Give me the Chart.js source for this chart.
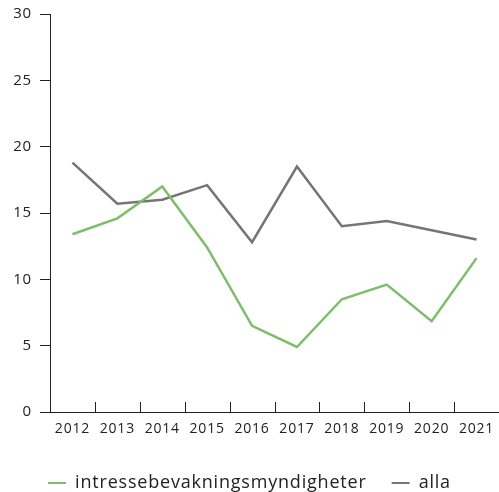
<!DOCTYPE html>
<html>
<head>
<meta charset="utf-8">
<script src="https://cdn.jsdelivr.net/npm/chart.js@4"></script>
<style>
html,body{margin:0;padding:0;background:#fff;}
#wrap{width:499px;height:492px;}
</style>
</head>
<body>
<div id="wrap"><canvas id="c" width="499" height="492"></canvas></div>
<script>
const categories = ['2012','2013','2014','2015','2016','2017','2018','2019','2020','2021'];
const intressebevakning = [13.4, 14.6, 17.0, 12.4, 6.5, 4.9, 8.5, 9.6, 6.85, 11.6];
const alla = [18.8, 15.7, 16.0, 17.1, 12.8, 18.5, 14.0, 14.4, 13.7, 13.0];
const yTicks = [0, 5, 10, 15, 20, 25, 30];

const FONT = '"Open Sans", Lato, sans-serif';

const spacing = {
  id: 'spacing',
  beforeLayout(chart) { chart.ctx.letterSpacing = '0.8px'; },
  beforeDraw(chart) { chart.ctx.letterSpacing = '0.8px'; }
};

const upTicks = {
  id: 'upTicks',
  afterDraw(chart) {
    const xs = chart.scales.x;
    const ctx = chart.ctx;
    const bottom = chart.chartArea.bottom;
    ctx.save();
    ctx.strokeStyle = '#222';
    ctx.lineWidth = 1;
    for (let i = 0; i <= categories.length; i++) {
      const x = Math.round(xs.getPixelForValue(i - 0.5)) + 0.5;
      ctx.beginPath();
      ctx.moveTo(x, bottom);
      ctx.lineTo(x, bottom - 10);
      ctx.stroke();
    }
    ctx.restore();
  }
};

new Chart(document.getElementById('c'), {
  type: 'line',
  data: {
    labels: categories,
    datasets: [
      {
        label: 'intressebevakningsmyndigheter',
        data: intressebevakning,
        borderColor: '#7dbd6b',
        backgroundColor: '#7dbd6b',
        borderWidth: 2.5,
        pointRadius: 0,
        tension: 0
      },
      {
        label: 'alla',
        data: alla,
        borderColor: '#757575',
        backgroundColor: '#757575',
        borderWidth: 2.5,
        pointRadius: 0,
        tension: 0
      }
    ]
  },
  options: {
    responsive: false,
    animation: false,
    layout: { padding: { top: 14, right: 0, left: 0, bottom: -10 } },
    plugins: {
      legend: {
        position: 'bottom',
        labels: {
          boxWidth: 18,
          boxHeight: 2,
          padding: 25,
          color: '#222',
          font: { family: FONT, size: 18 },
          generateLabels(chart) {
            const items = Chart.defaults.plugins.legend.labels.generateLabels(chart);
            items.forEach(it => { it.lineWidth = 0; it.strokeStyle = 'rgba(0,0,0,0)'; });
            return items;
          }
        }
      },
      tooltip: { enabled: false }
    },
    scales: {
      x: {
        offset: true,
        afterFit(scale) { scale.height = 37; scale.paddingLeft = 0; scale.paddingRight = 0; },
        grid: { display: true, drawOnChartArea: false, drawTicks: false, offset: true, color: '#222' },
        border: { display: true, color: '#222', width: 1 },
        ticks: { color: '#222', font: { family: FONT, size: 14 }, padding: 9, maxRotation: 0, autoSkip: false }
      },
      y: {
        min: 0,
        max: 30,
        afterBuildTicks(scale) { scale.ticks = yTicks.map(v => ({ value: v })); },
        afterFit(scale) { scale.width = 50; scale.paddingTop = 0; scale.paddingBottom = 0; },
        grid: { display: true, drawOnChartArea: false, drawTicks: true, tickLength: 10, color: '#222' },
        border: { display: true, color: '#222', width: 1 },
        ticks: { color: '#222', font: { family: FONT, size: 15 }, padding: 8 }
      }
    }
  },
  plugins: [spacing, upTicks]
});
</script>
</body>
</html>
